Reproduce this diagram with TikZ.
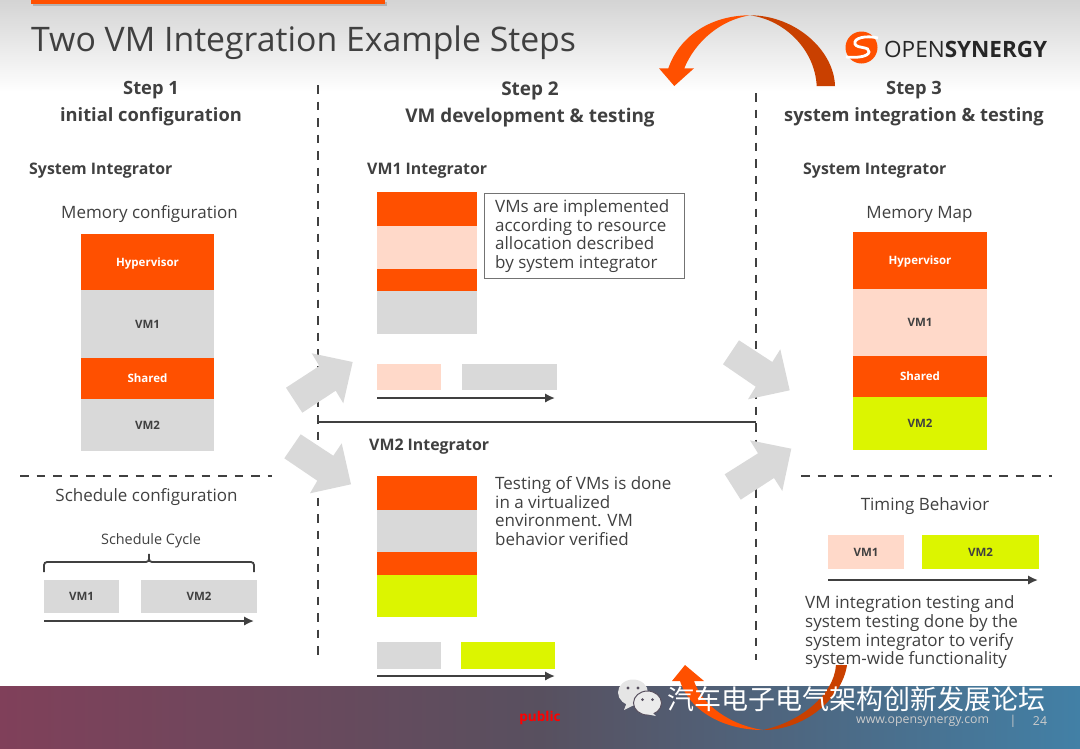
\documentclass[tikz,border=0pt]{standalone}
\usepackage{fontspec}
\setmainfont{Open Sans}
\newfontfamily\cjkfont{Noto Sans CJK SC}
\usetikzlibrary{arrows.meta}
\definecolor{osorange}{HTML}{FF5000}
\definecolor{osdark}{HTML}{C94000}
\definecolor{ospeach}{HTML}{FFD9C9}
\definecolor{osgray}{HTML}{D9D9D9}
\definecolor{oslime}{HTML}{DCF500}
\definecolor{ostext}{HTML}{404040}
\definecolor{osfootA}{HTML}{80405A}
\definecolor{osfootB}{HTML}{58505F}
\definecolor{osfootC}{HTML}{4280A6}
\begin{document}
\begin{tikzpicture}[
    x=1pt, y=-1pt,
    vmbox/.style={rectangle, inner sep=0pt, text height=8.3pt, text depth=0pt, text=ostext, font=\fontsize{11.5}{13}\selectfont\bfseries},
    hvbox/.style={vmbox, fill=osorange, text=white},
    graybox/.style={vmbox, fill=osgray},
    peachbox/.style={vmbox, fill=ospeach},
    limebox/.style={vmbox, fill=oslime},
    stepnote/.style={text=ostext, font=\fontsize{18.3}{27}\selectfont\bfseries, align=center},
    rolenote/.style={text=ostext, font=\fontsize{15.9}{18}\selectfont\bfseries},
    plainnote/.style={text=ostext, font=\fontsize{17}{18.7}\selectfont, align=left, inner sep=0pt},
    footnote/.style={text=white!80!black, inner sep=0pt, font=\fontsize{12.3}{14}\selectfont},
    timeline/.style={-{Latex[length=10pt,width=9.5pt]}, line width=2.7pt, draw=ostext},
    divider/.style={draw=ostext, line width=2pt, dash pattern=on 8.5pt off 8pt},
    bigarrow/.style={fill=osgray, draw=none}
]
    \useasboundingbox (0,0) rectangle (1080,748);

    % Header and footer bands
    \fill[top color=black!17, bottom color=white] (0,0) rectangle (1080,92);
    \fill[left color=osfootA, right color=osfootC, middle color=osfootB] (0,686) rectangle (1080,748);
    \fill[black!30] (33,2) rectangle (387,6);
    \fill[osorange] (31,0) rectangle (385,4);
    \node[anchor=west, inner sep=0pt, text=ostext, font=\fontsize{33.8}{40}\selectfont] (title) at (31,43) {Two VM Integration Example Steps};

    % Logo
    \fill[osorange] (861.5,47.5) circle (16);
    \draw[white, line width=2.8pt] (878,38) .. controls (866,35) and (853,38) .. (855,44) .. controls (857,49) and (870,46) .. (869,52) .. controls (868,57) and (856,58) .. (846,57);
    \node[anchor=west, inner sep=0pt, text=black!85, font=\fontsize{22.5}{24}\selectfont] (logotext) at (884,49) {OPEN\textbf{SYNERGY}};

    % Column dividers
    \coordinate (d1a) at (318,85);
    \coordinate (d1b) at (318,655);
    \coordinate (d2a) at (756,93);
    \coordinate (d2b) at (756,660);
    \coordinate (d3a) at (318,422);
    \coordinate (d3b) at (756,422);
    \coordinate (d4a) at (20,476);
    \coordinate (d4b) at (272,476);
    \coordinate (d5a) at (801,476);
    \coordinate (d5b) at (1052,476);
    \draw[divider] (d1a) -- (d1b);
    \draw[divider] (d2a) -- (d2b);
    \draw[divider] (d4a) -- (d4b);
    \draw[divider] (d5a) -- (d5b);
    \draw[draw=ostext, line width=2pt] (d3a) -- (d3b);

    % Step 1
    \node[stepnote] (step1) at (151,104) {Step 1\\initial configuration};
    \node[rolenote, anchor=west, inner sep=0pt] (role1) at (29,171) {System Integrator};
    \node[plainnote] (memcfg) at (149.5,214) {Memory configuration};
    \node[hvbox, minimum width=133pt, minimum height=56pt] (hv1) at (147.5,262) {Hypervisor};
    \node[graybox, minimum width=133pt, minimum height=68pt] (vma1) at (147.5,324) {VM1};
    \node[hvbox, minimum width=133pt, minimum height=41pt] (sh1) at (147.5,378.5) {Shared};
    \node[graybox, minimum width=133pt, minimum height=52pt] (vmb1) at (147.5,425) {VM2};
    \node[plainnote] (schedcfg) at (146.5,497) {Schedule configuration};
    \node[text=ostext, inner sep=0pt, font=\fontsize{14.4}{16}\selectfont] (cycle) at (151,540.5) {Schedule Cycle};
    \coordinate (bracea) at (44,572);
    \coordinate (braceb) at (254,572);
    \draw[draw=ostext, line width=1.8pt, rounded corners=3pt] (bracea) -- (44,562) -- (149,562) -- (149,552) -- (149,562) -- (254,562) -- (braceb);
    \node[graybox, minimum width=75pt, minimum height=33pt] (cyc1) at (81.5,596.5) {VM1};
    \node[graybox, minimum width=116pt, minimum height=33pt] (cyc2) at (199,596.5) {VM2};
    \coordinate (ta1) at (44,621);
    \coordinate (tb1) at (254,621);
    \draw[timeline] (ta1) -- (tb1);

    % Step 2, upper half
    \node[stepnote, font=\fontsize{18.9}{27}\selectfont\bfseries] (step2) at (530,104) {Step 2\\VM development \& testing};
    \node[rolenote, anchor=west, inner sep=0pt] (role2) at (367,171) {VM1 Integrator};
    \node[hvbox, minimum width=100pt, minimum height=34pt] (upa) at (427,209) {};
    \node[peachbox, minimum width=100pt, minimum height=43pt] (upb) at (427,247.5) {};
    \node[hvbox, minimum width=100pt, minimum height=22pt] (upc) at (427,280) {};
    \node[graybox, minimum width=100pt, minimum height=43pt] (upd) at (427,312.5) {};
    \node[draw=black!55, line width=0.8pt, minimum width=200.5pt, minimum height=85pt, inner sep=0pt] (implbox) at (584.5,235.5) {};
    \node[plainnote, anchor=west] (impl) at (495,236) {VMs are implemented\\according to resource\\allocation described\\by system integrator};
    \node[peachbox, minimum width=64pt, minimum height=26pt] (upe) at (409,377) {};
    \node[graybox, minimum width=95pt, minimum height=26pt] (upf) at (509.5,377) {};
    \coordinate (ta2) at (377,398);
    \coordinate (tb2) at (555,398);
    \draw[timeline] (ta2) -- (tb2);

    % Step 2, lower half
    \node[rolenote, anchor=west, inner sep=0pt] (role3) at (369,447) {VM2 Integrator};
    \node[hvbox, minimum width=100pt, minimum height=34pt] (loa) at (427,493) {};
    \node[graybox, minimum width=100pt, minimum height=42pt] (lob) at (427,531) {};
    \node[hvbox, minimum width=100pt, minimum height=23pt] (loc) at (427,563.5) {};
    \node[limebox, minimum width=100pt, minimum height=42pt] (lod) at (427,596) {};
    \node[plainnote, anchor=west] (virt) at (495,511) {Testing of VMs is done\\in a virtualized\\environment. VM\\behavior verified};
    \node[graybox, minimum width=64pt, minimum height=27pt] (loe) at (409,655.5) {};
    \node[limebox, minimum width=94pt, minimum height=27pt] (lof) at (508,655.5) {};
    \coordinate (ta3) at (377,676);
    \coordinate (tb3) at (555,676);
    \draw[timeline] (ta3) -- (tb3);

    % Step 3
    \node[stepnote] (step3) at (914,104) {Step 3\\system integration \& testing};
    \node[rolenote, anchor=west, inner sep=0pt] (role4) at (803,171) {System Integrator};
    \node[plainnote] (memmap) at (919.5,214.5) {Memory Map};
    \node[hvbox, minimum width=134pt, minimum height=57pt] (hv3) at (920,260.5) {Hypervisor};
    \node[peachbox, minimum width=134pt, minimum height=67pt] (vma3) at (920,322.5) {VM1};
    \node[hvbox, minimum width=134pt, minimum height=41pt] (sh3) at (920,376.5) {Shared};
    \node[limebox, minimum width=134pt, minimum height=53pt] (vmb3) at (920,423.5) {VM2};
    \node[plainnote] (timing) at (925,506) {Timing Behavior};
    \node[peachbox, minimum width=76pt, minimum height=34pt] (tim1) at (866,552) {VM1};
    \node[limebox, minimum width=117pt, minimum height=34pt] (tim2) at (980.5,552) {VM2};
    \coordinate (ta4) at (828,580);
    \coordinate (tb4) at (1038,580);
    \draw[timeline] (ta4) -- (tb4);
    \node[plainnote, anchor=west] (sysnote) at (805,632.5) {VM integration testing and\\system testing done by the\\system integrator to verify\\system-wide functionality};

    % Gray arrows between the steps
    \fill[bigarrow] (311.7,353.3) -- (352.7,362) -- (343.3,403.3) -- (335.7,390.7) -- (302.3,412.7) -- (286,387.7) -- (319.3,366) -- cycle;
    \fill[bigarrow] (300.7,434.3) -- (333.3,455.7) -- (341.7,443.3) -- (351,484.3) -- (310,493.3) -- (317.3,480.7) -- (284.3,458.3) -- cycle;
    \fill[bigarrow] (739,340.3) -- (772.3,362) -- (780.3,349.3) -- (789.7,390.3) -- (748,399.3) -- (755.7,386.7) -- (723,364.3) -- cycle;
    \fill[bigarrow] (750,440.3) -- (791.3,448.7) -- (782.3,491) -- (774,478) -- (740.7,499.7) -- (724.7,474.3) -- (758,453.3) -- cycle;

    % Curved arrow at the top
    \fill[osdark] (835,86) .. controls (834,50) and (795,15.3) .. (750,15.3) .. controls (785,20) and (815,50) .. (816.7,86) -- cycle;
    \fill[osorange] (750,15.3) .. controls (712,15.3) and (680,35) .. (668.3,68.3) -- (659,68.3) -- (674.3,86) -- (694,68.3) -- (684.3,68.3) .. controls (695,42) and (720,20) .. (750,15.3) -- cycle;

    % Footer texts
    \node[text=red, font=\fontsize{13.5}{16}\selectfont\bfseries, inner sep=0pt] (public) at (540,718) {public};
    \node[footnote, anchor=west] (web) at (856,721.5) {www.opensynergy.com};
    \node[footnote] (sep) at (1013,721) {|};
    \node[footnote] (page) at (1040,721) {24};

    % Curved arrow at the bottom
    \fill[osdark] (847,665) .. controls (843,695) and (808,730) .. (763,730) .. controls (800,722) and (834,695) .. (836,665) -- cycle;
    \fill[osorange] (763,730) .. controls (725,730) and (690,712) .. (680,681) -- (672,681) -- (685,665) -- (704,681) -- (694,681) .. controls (702,705) and (730,725) .. (763,730) -- cycle;

    % Watermark
    \fill[white!90!black] (633,692.5) ellipse (15 and 13);
    \fill[white!90!black] (627,702) -- (624,710) -- (636,704) -- cycle;
    \fill[osfootB] (628,688) circle (1.6);
    \fill[osfootB] (638,688) circle (1.6);
    \fill[white!92!black, draw=osfootB, line width=1pt] (647.5,703) ellipse (14 and 12);
    \fill[white!92!black] (652,712) -- (656,716) -- (646,714) -- cycle;
    \fill[osfootB] (642.5,699.5) circle (1.5);
    \fill[osfootB] (652.5,699.5) circle (1.5);
    \node[anchor=west, inner sep=0pt, text=white, font=\fontsize{27}{30}\selectfont\cjkfont] (wm) at (667,699.5) {汽车电子电气架构创新发展论坛};
\end{tikzpicture}
\end{document}
